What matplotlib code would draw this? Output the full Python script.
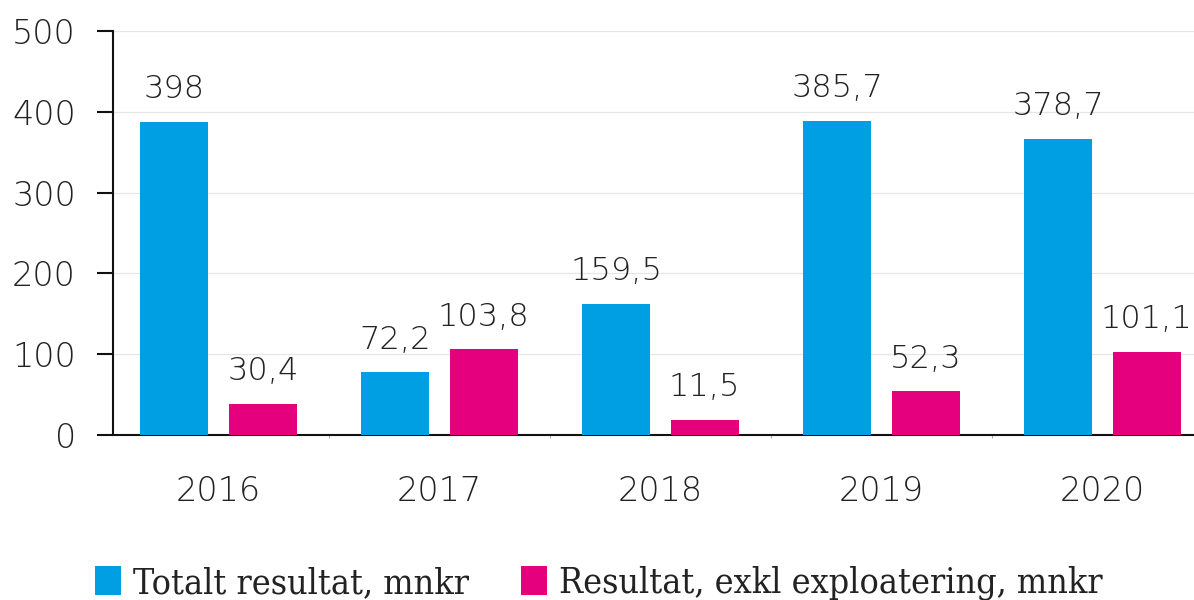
import matplotlib
matplotlib.use("Agg")
import matplotlib.pyplot as plt
import numpy as np

# data
years = ["2016", "2017", "2018", "2019", "2020"]
totalt = [387.6, 77.4, 162.6, 388.5, 366.8]          # bar heights (as drawn)
exkl = [38.8, 106.0, 18.5, 54.3, 103.3]
totalt_lbl = ["398", "72,2", "159,5", "385,7", "378,7"]  # printed labels
exkl_lbl = ["30,4", "103,8", "11,5", "52,3", "101,1"]
yticks = [0, 100, 200, 300, 400, 500]

blue = "#009fe3"
pink = "#e5007d"
txt = "#222222"

plt.rcParams["font.family"] = ["DejaVu Sans"]
plt.rcParams["font.weight"] = 200

fig = plt.figure(figsize=(11.94, 6.0), dpi=100)
ax = fig.add_axes([0.0944, 0.275, 0.9056, 0.6733])

x = np.arange(len(years))
w = 0.308
b1 = ax.bar(x - 0.2, totalt, w, color=blue, label="Totalt resultat, mnkr", zorder=3)
b2 = ax.bar(x + 0.2, exkl, w, color=pink, label="Resultat, exkl exploatering, mnkr", zorder=3)

for bars, labels in [(b1, totalt_lbl), (b2, exkl_lbl)]:
    for r, s in zip(bars, labels):
        ax.annotate(s, (r.get_x() + r.get_width() / 2, r.get_height()),
                    xytext=(0, 17), textcoords="offset points",
                    ha="center", va="baseline", fontsize=23, color=txt,
                    fontweight=200)

ax.set_xlim(-0.479, 4.414)
ax.set_ylim(0, 500)
ax.set_yticks(yticks)
ax.set_yticklabels([str(v) for v in yticks])
ax.set_xticks(x)
ax.set_xticklabels(years)
ax.set_xticks(x[:-1] + 0.5, minor=True)

ax.grid(axis="y", color="#e6e6e6", linewidth=0.9, zorder=0)
ax.set_axisbelow(True)

for s in ["top", "right"]:
    ax.spines[s].set_visible(False)
for s in ["left", "bottom"]:
    ax.spines[s].set_linewidth(1.5)
    ax.spines[s].set_color("#111111")

ax.tick_params(axis="y", length=11.5, width=1.5, color="#111111",
               pad=15, labelsize=24, labelcolor=txt)
ax.tick_params(axis="x", which="major", length=0, pad=29,
               labelsize=24, labelcolor=txt)
ax.tick_params(axis="x", which="minor", length=2, width=0.8, color="#aaaaaa")

leg = fig.legend(handles=[b1, b2], loc="center left",
                 bbox_to_anchor=(95 / 1194, 1 - 583 / 600), ncol=2,
                 frameon=False, borderpad=0, borderaxespad=0,
                 handlelength=0.72, handleheight=0.86, handletextpad=0.35,
                 columnspacing=1.45,
                 prop={"family": "DejaVu Serif", "stretch": "condensed",
                       "weight": "normal", "size": 25.7})
for t in leg.get_texts():
    t.set_color(txt)

fig.savefig("out.png", dpi=100)
